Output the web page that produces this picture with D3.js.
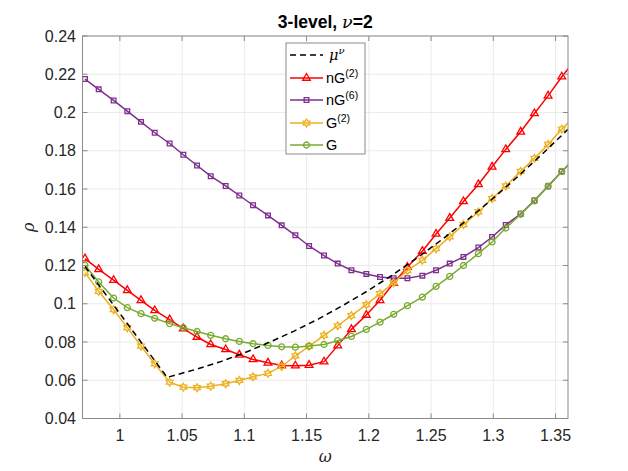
<!DOCTYPE html>
<html><head><meta charset="utf-8">
<script src="https://cdn.jsdelivr.net/npm/d3@7"></script>
<style>
html,body{margin:0;padding:0;background:#fff;}
svg{display:block;font-family:"Liberation Sans",Arial,Helvetica,sans-serif;}
</style></head>
<body>
<svg id="chart" width="628" height="471"></svg>
<script>
// ---- data ----
const omega = [0.972,0.983,0.995,1.006,1.017,1.028,1.040,1.051,1.062,1.073,1.085,1.096,1.107,1.119,1.130,1.141,1.152,1.164,1.175,1.186,1.198,1.209,1.220,1.231,1.243,1.254,1.265,1.276,1.288,1.299,1.310,1.322,1.333,1.344,1.355,1.367];
const nG2 = [0.1236,0.1180,0.1123,0.1070,0.1018,0.0965,0.0917,0.0870,0.0826,0.0787,0.0761,0.0733,0.0709,0.0691,0.0677,0.0676,0.0679,0.0697,0.0781,0.0866,0.0941,0.1018,0.1108,0.1192,0.1275,0.1365,0.1448,0.1535,0.1624,0.1716,0.1807,0.1899,0.1995,0.2087,0.2187,0.2285];
const nG6 = [0.2175,0.2121,0.2063,0.2007,0.1951,0.1894,0.1838,0.1779,0.1723,0.1667,0.1616,0.1566,0.1515,0.1462,0.1410,0.1358,0.1302,0.1252,0.1210,0.1175,0.1156,0.1140,0.1133,0.1133,0.1147,0.1175,0.1210,0.1245,0.1294,0.1349,0.1412,0.1470,0.1540,0.1615,0.1692,0.1770];
const G2 = [0.1163,0.1065,0.0969,0.0875,0.0779,0.0686,0.0590,0.0564,0.0561,0.0569,0.0582,0.0599,0.0618,0.0636,0.0672,0.0728,0.0777,0.0835,0.0885,0.0938,0.0995,0.1053,0.1110,0.1173,0.1227,0.1288,0.1350,0.1414,0.1480,0.1550,0.1616,0.1692,0.1760,0.1833,0.1913,0.1990];
const G = [0.1201,0.1114,0.1030,0.0980,0.0948,0.0924,0.0896,0.0875,0.0855,0.0835,0.0817,0.0803,0.0791,0.0782,0.0775,0.0773,0.0779,0.0787,0.0807,0.0829,0.0866,0.0904,0.0945,0.0990,0.1035,0.1091,0.1143,0.1200,0.1262,0.1323,0.1396,0.1468,0.1538,0.1615,0.1692,0.1770];
const muOmega = [0.972,1.038,1.06,1.08,1.10,1.12,1.14,1.16,1.18,1.20,1.22,1.24,1.26,1.28,1.30,1.32,1.34,1.36];
const muVals = [0.1195,0.0615,0.0655,0.0695,0.0743,0.0798,0.0857,0.0922,0.0994,0.1071,0.1155,0.1245,0.1342,0.1443,0.1552,0.1667,0.1787,0.1912];
const xTicks = [1,1.05,1.1,1.15,1.2,1.25,1.3,1.35];
const xTickLabels = ["1","1.05","1.1","1.15","1.2","1.25","1.3","1.35"];
const yTicks = [0.04,0.06,0.08,0.1,0.12,0.14,0.16,0.18,0.2,0.22,0.24];
const yTickLabels = ["0.04","0.06","0.08","0.1","0.12","0.14","0.16","0.18","0.2","0.22","0.24"];

// ---- layout ----
const L = 82.5, R = 568, T = 36, B = 418.5;
const svg = d3.select("#chart");
const x = d3.scaleLinear().domain([0.97,1.36]).range([L,R]);
const y = d3.scaleLinear().domain([0.04,0.24]).range([B,T]);
const axisCol = "#262626";

// grid
const grid = svg.append("g");
grid.selectAll("line.gx").data(xTicks).enter().append("line")
  .attr("x1",d=>x(d)).attr("x2",d=>x(d)).attr("y1",T).attr("y2",B)
  .attr("stroke","#e6e6e6").attr("stroke-width",0.8);
grid.selectAll("line.gy").data(yTicks).enter().append("line")
  .attr("y1",d=>y(d)).attr("y2",d=>y(d)).attr("x1",L).attr("x2",R)
  .attr("stroke","#e6e6e6").attr("stroke-width",0.8);

svg.append("clipPath").attr("id","clip").append("rect")
  .attr("x",L).attr("y",T).attr("width",R-L).attr("height",B-T);
const plot = svg.append("g").attr("clip-path","url(#clip)");

// hexagram symbol
const hexagram = {
  draw(ctx, size){
    const Ro = Math.sqrt(size/1.3);
    const Ri = Ro/Math.sqrt(3);
    for(let i=0;i<12;i++){
      const a = -Math.PI/2 + i*Math.PI/6;
      const r = i%2===0 ? Ro : Ri;
      const px = r*Math.cos(a), py = r*Math.sin(a);
      if(i===0) ctx.moveTo(px,py); else ctx.lineTo(px,py);
    }
    ctx.closePath();
  }
};

const series = [
  {vals:nG2, color:"#FF0000", sym:d3.symbolTriangle, size:26},
  {vals:nG6, color:"#7E2F8E", sym:d3.symbolSquare, size:22},
  {vals:G2, color:"#EDB120", sym:hexagram, size:20},
  {vals:G, color:"#77AC30", sym:d3.symbolCircle, size:28}
];

const line = d3.line().x(d=>x(d[0])).y(d=>y(d[1]));

series.forEach(s=>{
  const pts = omega.map((o,i)=>[o,s.vals[i]]);
  plot.append("path").attr("d",line(pts)).attr("fill","none")
    .attr("stroke",s.color).attr("stroke-width",1.5);
  plot.selectAll(null).data(pts).enter().append("path")
    .attr("transform",d=>`translate(${x(d[0])},${y(d[1])})`)
    .attr("d",d3.symbol().type(s.sym).size(s.size)())
    .attr("fill","none").attr("stroke",s.color).attr("stroke-width",1.3);
});

const muPts = muOmega.map((o,i)=>[o,muVals[i]]);
plot.append("path").attr("d",line(muPts))
  .attr("fill","none").attr("stroke","#000").attr("stroke-width",1.5)
  .attr("stroke-dasharray","6,4");

// axes box
svg.append("rect").attr("x",L).attr("y",T).attr("width",R-L).attr("height",B-T)
  .attr("fill","none").attr("stroke","#8a8a8a").attr("stroke-width",1);

const tickLen = 5;
const ax = svg.append("g").attr("stroke","#8a8a8a").attr("stroke-width",1);
xTicks.forEach(t=>{
  ax.append("line").attr("x1",x(t)).attr("x2",x(t)).attr("y1",B).attr("y2",B-tickLen);
  ax.append("line").attr("x1",x(t)).attr("x2",x(t)).attr("y1",T).attr("y2",T+tickLen);
});
yTicks.forEach(t=>{
  ax.append("line").attr("y1",y(t)).attr("y2",y(t)).attr("x1",L).attr("x2",L+tickLen);
  ax.append("line").attr("y1",y(t)).attr("y2",y(t)).attr("x1",R).attr("x2",R-tickLen);
});

// tick labels
svg.selectAll("text.xt").data(xTicks).enter().append("text")
  .attr("x",d=>x(d)).attr("y",441).attr("text-anchor","middle")
  .attr("font-size",16).attr("fill",axisCol).text((d,i)=>xTickLabels[i]);
svg.selectAll("text.yt").data(yTicks).enter().append("text")
  .attr("x",76).attr("y",d=>y(d)+5.5).attr("text-anchor","end")
  .attr("font-size",16).attr("fill",axisCol).text((d,i)=>yTickLabels[i]);

// axis labels
svg.append("text").attr("x",x(1.165)).attr("y",462).attr("text-anchor","middle")
  .attr("font-size",16).attr("font-style","italic").attr("font-family","'DejaVu Serif',serif").attr("fill",axisCol).text("ω");
svg.append("text").attr("transform",`translate(34,${(T+B)/2}) rotate(-90)`).attr("text-anchor","middle")
  .attr("font-size",16).attr("font-style","italic").attr("font-family","'DejaVu Serif',serif").attr("fill",axisCol).text("ρ");

// title
const title = svg.append("text").attr("x",(L+R)/2).attr("y",28).attr("text-anchor","middle")
  .attr("font-size",17.5).attr("font-weight","bold").attr("fill","#000");
title.append("tspan").text("3-level, ");
title.append("tspan").attr("font-style","italic").attr("font-weight","normal").attr("font-family","'DejaVu Serif',serif").text("ν");
title.append("tspan").text("=2");

// legend
const lg = svg.append("g");
const lx = 286, ly = 43, lw = 79, lh = 111;
lg.append("rect").attr("x",lx).attr("y",ly).attr("width",lw).attr("height",lh)
  .attr("fill","#fff").attr("stroke","#8a8a8a").attr("stroke-width",1);
const rowY = [55,78,100,123,145];
const sx1 = 290, sx2 = 323, tx = 326;
lg.append("line").attr("x1",sx1).attr("x2",sx2).attr("y1",rowY[0]).attr("y2",rowY[0])
  .attr("stroke","#000").attr("stroke-width",1.5).attr("stroke-dasharray","6,4");
const t0 = lg.append("text").attr("x",tx+3).attr("y",rowY[0]+5).attr("font-size",14.5).attr("fill","#000");
t0.append("tspan").attr("font-style","italic").attr("font-family","'DejaVu Serif',serif").text("μ");
t0.append("tspan").attr("font-style","italic").attr("font-family","'DejaVu Serif',serif").attr("font-size",10).attr("dy",-6).text("ν");
const labels = [["nG","(2)"],["nG","(6)"],["G","(2)"],["G",""]];
series.forEach((s,i)=>{
  const yy = rowY[i+1];
  lg.append("line").attr("x1",sx1).attr("x2",sx2).attr("y1",yy).attr("y2",yy)
    .attr("stroke",s.color).attr("stroke-width",1.5);
  lg.append("path").attr("transform",`translate(${(sx1+sx2)/2},${yy})`)
    .attr("d",d3.symbol().type(s.sym).size(s.size)())
    .attr("fill","none").attr("stroke",s.color).attr("stroke-width",1.3);
  const t = lg.append("text").attr("x",tx).attr("y",yy+5).attr("font-size",14.5).attr("fill","#000");
  t.append("tspan").text(labels[i][0]);
  if(labels[i][1]) t.append("tspan").attr("font-size",10.5).attr("dy",-6).text(labels[i][1]);
});
</script>
</body></html>
